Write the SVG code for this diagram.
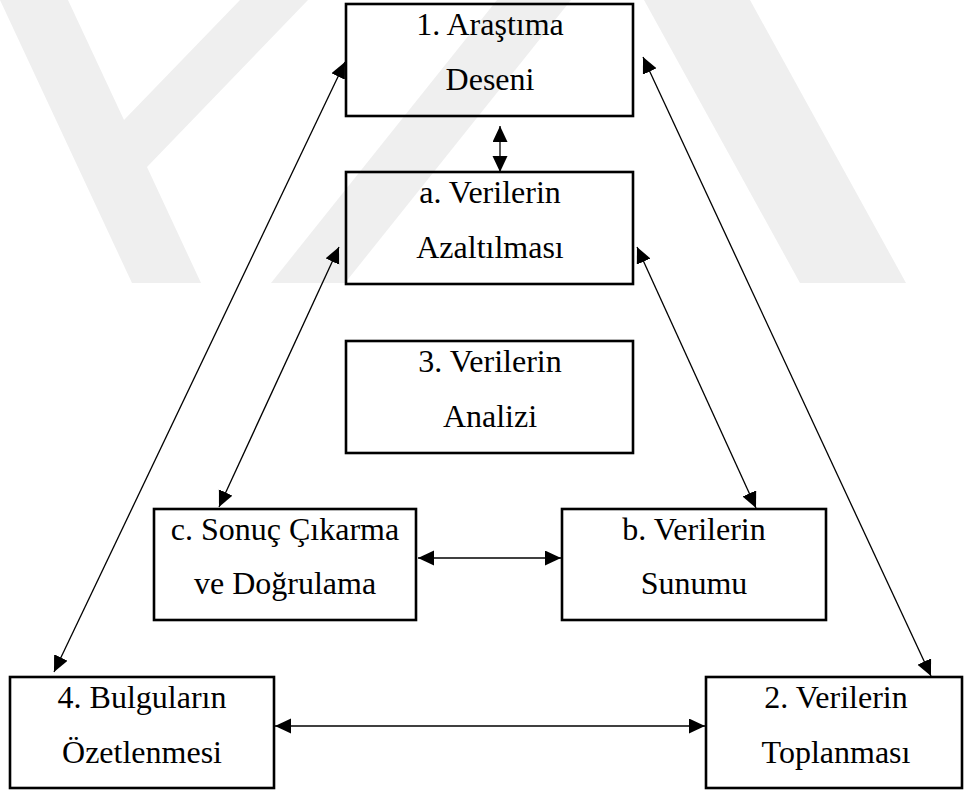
<svg xmlns="http://www.w3.org/2000/svg" width="966" height="790" viewBox="0 0 966 790">
<style>
.box{fill:none;stroke:#000;stroke-width:2.6}
.lbl{font-family:"Liberation Serif","Times New Roman",serif;font-size:32px;fill:#000;text-anchor:middle}
.con{stroke:#000;stroke-width:1.3;fill:none;marker-start:url(#ah);marker-end:url(#ah)}
.wm{fill:#efefef;stroke:none}
</style>
<defs>
<marker id="ah" markerUnits="userSpaceOnUse" markerWidth="17" markerHeight="16" refX="16" refY="7.5" orient="auto-start-reverse" viewBox="0 0 17 16">
<path d="M0,0 L16,7.5 L0,15 z" fill="#000"/>
</marker>
</defs>
<rect width="966" height="790" fill="#fff"/>
<g id="watermark">
<polygon class="wm" points="0,0 68,0 124,120 240,0 308,0 147,167 201,283 132,283"/>
<polygon class="wm" points="271,283 345,283 571,0 497,0"/>
<polygon class="wm" points="644,0 750,0 906,283 800,283"/>
</g>
<g id="connectors">
<line class="con" x1="500" y1="126" x2="500" y2="172"/>
<line class="con" x1="345" y1="62" x2="54" y2="672"/>
<line class="con" x1="643" y1="57" x2="931" y2="676"/>
<line class="con" x1="339" y1="247" x2="219" y2="507"/>
<line class="con" x1="637" y1="247" x2="756" y2="508"/>
<line class="con" x1="418" y1="558" x2="561" y2="558"/>
<line class="con" x1="275" y1="726" x2="705" y2="726"/>
</g>
<g id="n1"><rect class="box" x="346" y="4" width="287" height="112"/><text class="lbl" x="490" y="35">1. Araştıma</text><text class="lbl" x="490" y="90">Deseni</text></g>
<g id="na"><rect class="box" x="346" y="172" width="287" height="112"/><text class="lbl" x="490" y="203">a. Verilerin</text><text class="lbl" x="490" y="258">Azaltılması</text></g>
<g id="n3"><rect class="box" x="346" y="341" width="287" height="112"/><text class="lbl" x="490" y="372">3. Verilerin</text><text class="lbl" x="490" y="427">Analizi</text></g>
<g id="nc"><rect class="box" x="154" y="509" width="262" height="111"/><text class="lbl" x="285" y="540">c. Sonuç Çıkarma</text><text class="lbl" x="285" y="594">ve Doğrulama</text></g>
<g id="nb"><rect class="box" x="562" y="509" width="264" height="111"/><text class="lbl" x="694" y="540">b. Verilerin</text><text class="lbl" x="694" y="594">Sunumu</text></g>
<g id="n4"><rect class="box" x="10" y="677" width="264" height="111"/><text class="lbl" x="142" y="708">4. Bulguların</text><text class="lbl" x="142" y="763">Özetlenmesi</text></g>
<g id="n2"><rect class="box" x="706" y="677" width="256" height="111"/><text class="lbl" x="836" y="708">2. Verilerin</text><text class="lbl" x="836" y="763">Toplanması</text></g>
</svg>
